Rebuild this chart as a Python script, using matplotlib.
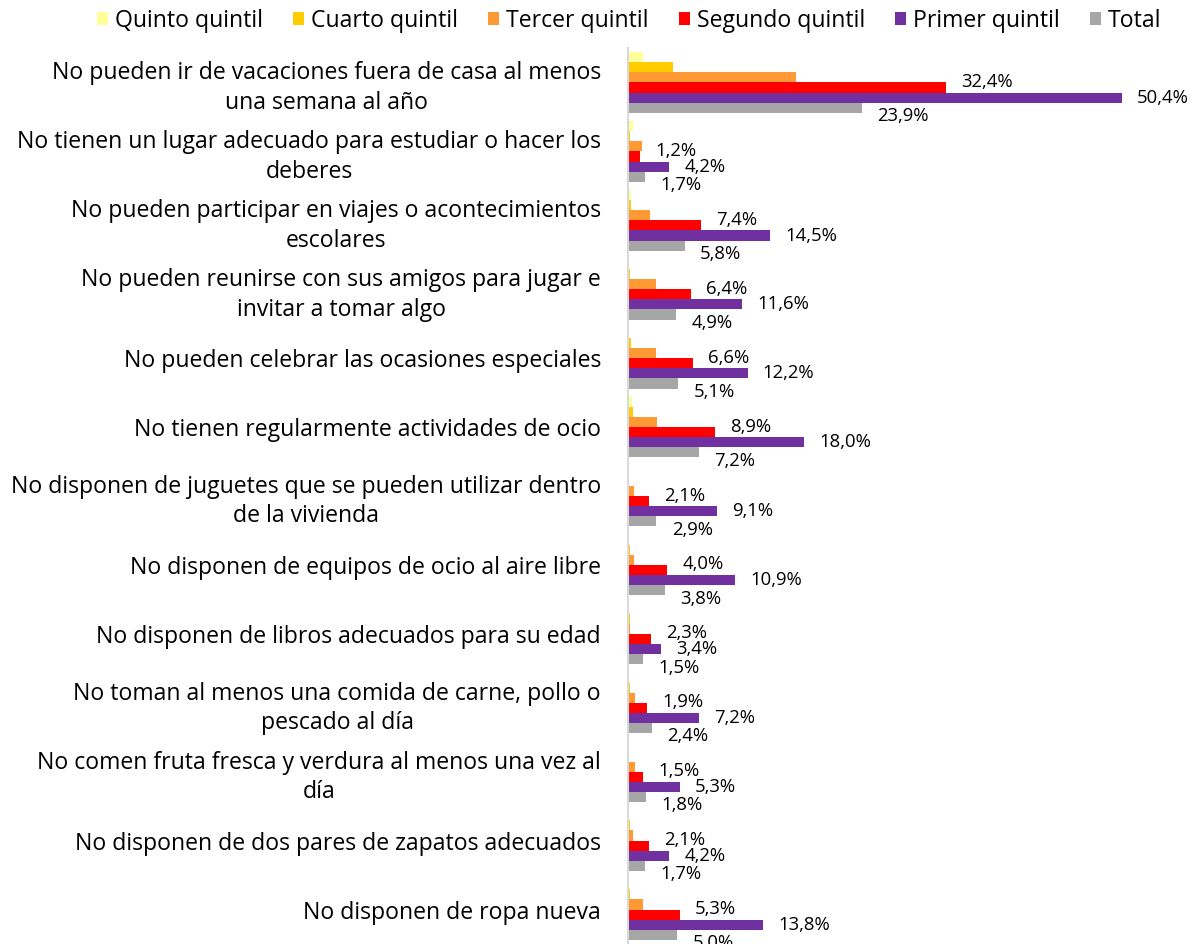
import matplotlib
matplotlib.use("Agg")
import matplotlib.pyplot as plt
from matplotlib.patches import Patch
import numpy as np

plt.rcParams['font.family'] = ['Open Sans', 'DejaVu Sans']

categories = [
    "No pueden ir de vacaciones fuera de casa al menos\nuna semana al año",
    "No tienen un lugar adecuado para estudiar o hacer los\ndeberes",
    "No pueden participar en viajes o acontecimientos\nescolares",
    "No pueden reunirse con sus amigos para jugar e\ninvitar a tomar algo",
    "No pueden celebrar las ocasiones especiales",
    "No tienen regularmente actividades de ocio",
    "No disponen de juguetes que se pueden utilizar dentro\nde la vivienda",
    "No disponen de equipos de ocio al aire libre",
    "No disponen de libros adecuados para su edad",
    "No toman al menos una comida de carne, pollo o\npescado al día",
    "No comen fruta fresca y verdura al menos una vez al\ndía",
    "No disponen de dos pares de zapatos adecuados",
    "No disponen de ropa nueva",
]

series_names = ["Quinto quintil", "Cuarto quintil", "Tercer quintil",
                "Segundo quintil", "Primer quintil", "Total"]

quinto = [1.5, 0.5, 0.3, 0.1, 0.1, 0.4, 0.0, 0.0, 0.0, 0.0, 0.1, 0.0, 0.1]
cuarto = [4.6, 0.2, 0.3, 0.2, 0.3, 0.5, 0.0, 0.2, 0.2, 0.2, 0.1, 0.2, 0.2]
tercer = [17.1, 1.4, 2.2, 2.9, 2.9, 3.0, 0.6, 0.6, 0.2, 0.7, 0.7, 0.5, 1.5]
segundo = [32.4, 1.2, 7.4, 6.4, 6.6, 8.9, 2.1, 4.0, 2.3, 1.9, 1.5, 2.1, 5.3]
primer = [50.4, 4.2, 14.5, 11.6, 12.2, 18.0, 9.1, 10.9, 3.4, 7.2, 5.3, 4.2, 13.8]
total = [23.9, 1.7, 5.8, 4.9, 5.1, 7.2, 2.9, 3.8, 1.5, 2.4, 1.8, 1.7, 5.0]

colors = ["#FFFF99", "#FFCC00", "#FF9933", "#FF0000", "#7030A0", "#A6A6A6"]
all_series = [quinto, cuarto, tercer, segundo, primer, total]
labeled = {3: 4, 4: 0, 5: -6}  # series index -> vertical offset (points)

fig = plt.figure(figsize=(11.94, 9.44), dpi=100)
ax = fig.add_axes([628 / 1194, 0.0, 1 - 628 / 1194, 1 - 48 / 944])

n = len(categories)
y = np.arange(n)
bh = 0.147
for i, (vals, col) in enumerate(zip(all_series, colors)):
    pos = y - 2.5 * bh + i * bh
    ax.barh(pos, vals, height=bh, color=col, linewidth=0)
    if i in labeled:
        for p, v in zip(pos, vals):
            ax.annotate(f"{v:.1f}%".replace('.', ','), xy=(v, p),
                        xytext=(11, labeled[i]), textcoords='offset points',
                        ha='left', va='center', fontsize=13.3, color='#000000')

ax.set_ylim(n - 0.5, -0.5)
ax.set_xlim(0, 57.75)
ax.set_yticks(y)
ax.set_yticklabels(categories, fontsize=16.6, multialignment='center', linespacing=1.3)
ax.tick_params(axis='y', length=0, pad=19.5)
ax.set_xticks([])
for s in ['top', 'right', 'bottom']:
    ax.spines[s].set_visible(False)
ax.spines['left'].set_color('#D9D9D9')
ax.spines['left'].set_linewidth(1.5)

handles = [Patch(facecolor=c, edgecolor='none') for c in colors]
fig.legend(handles, series_names, loc='center', bbox_to_anchor=(0.527, 0.978),
           ncol=6, frameon=False, fontsize=16.6, handlelength=0.48, handleheight=0.48,
           handletextpad=0.3, columnspacing=1.3)

fig.savefig("out.png", dpi=100)
